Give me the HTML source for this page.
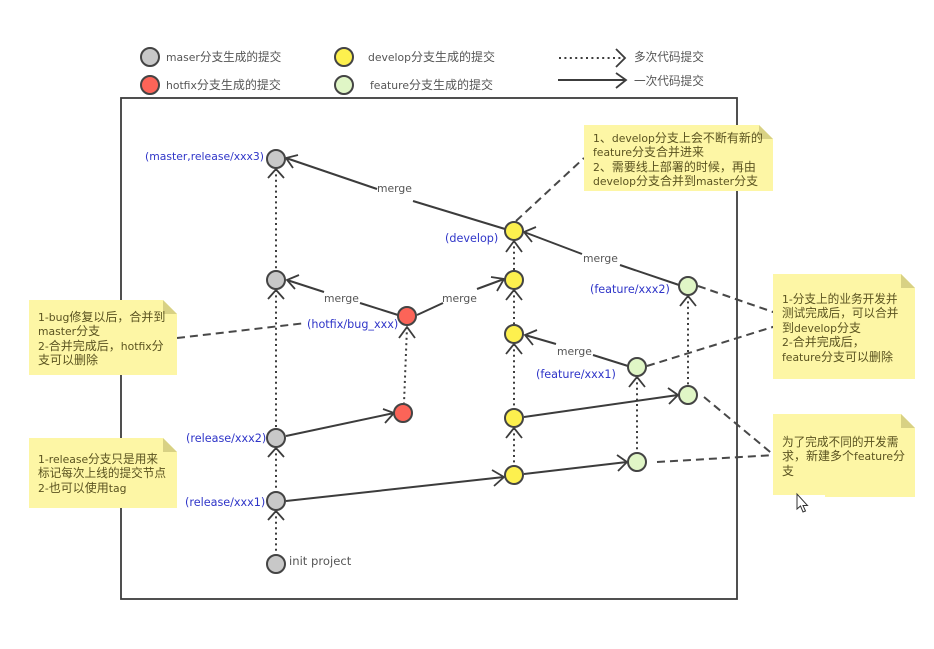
<!DOCTYPE html>
<html>
<head>
<meta charset="utf-8">
<style>
html,body{margin:0;padding:0;background:#fff;width:934px;height:649px;overflow:hidden}
svg{display:block;filter:blur(0.3px)}
text{font-family:"DejaVu Sans","Noto Sans CJK SC",sans-serif;font-size:10.8px;fill:#555}
tspan{font-size:12px}
tspan.t{font-size:11.65px}
.n text{fill:#5a5320}
text.b{fill:#2f35c8;font-size:11.2px}
text.m{font-size:10.8px}
text.i{font-size:11.6px}
.f{fill:none;stroke:#3c3c3c;stroke-width:1.8}
.d{fill:none;stroke:#3c3c3c;stroke-width:2;stroke-dasharray:2 3.4}
.s{fill:none;stroke:#3c3c3c;stroke-width:2}
.h{fill:none;stroke:#484848;stroke-width:2;stroke-dasharray:8 5}
.g{fill:#c8c8c8;stroke:#444;stroke-width:2}
.r{fill:#fc6458;stroke:#444;stroke-width:2}
.y{fill:#fdf04e;stroke:#444;stroke-width:2}
.e{fill:#e0f6c6;stroke:#444;stroke-width:2}
.nb{fill:#fdf6a5}
.nf{fill:#d8d184}
</style>
</head>
<body>
<svg width="934" height="649" viewBox="0 0 934 649" xmlns="http://www.w3.org/2000/svg">
<rect x="121" y="98" width="616" height="501" fill="#fff" stroke="#3c3c3c" stroke-width="1.8"/>

<!-- legend -->
<circle class="g" cx="150" cy="57" r="9"/>
<circle class="r" cx="150" cy="85" r="9"/>
<circle class="y" cx="344" cy="57" r="9"/>
<circle class="e" cx="344" cy="85" r="9"/>
<text x="166" y="61">maser<tspan class="t">分支生成的提交</tspan></text>
<text x="166" y="89">hotfix<tspan>分支生成的提交</tspan></text>
<text x="368" y="61">develop<tspan>分支生成的提交</tspan></text>
<text x="370" y="89">feature<tspan>分支生成的提交</tspan></text>
<path class="d" d="M559 58H622"/>
<path class="f" d="M616 49L625 58L616 67"/>
<path class="s" d="M558 80H626"/>
<path class="f" d="M616 73L626 80L616 88"/>
<text x="634" y="61"><tspan class="t">多次代码提交</tspan></text>
<text x="634" y="85"><tspan class="t">一次代码提交</tspan></text>

<!-- dotted lines -->
<path class="d" d="M276 169V270M276 290V428M276 448V491M276 511V554"/>
<path class="d" d="M514 241V270M514 290V324M514 344V408M514 428V465"/>
<path class="d" d="M407 327L404 403"/>
<path class="d" d="M688 296V385"/>
<path class="d" d="M637 377V452"/>

<!-- up arrowheads -->
<g class="f">
<path d="M268 178L276 169L284 178"/>
<path d="M268 299L276 290L284 299"/>
<path d="M268 457L276 448L284 457"/>
<path d="M268 520L276 511L284 520"/>
<path d="M399 338L407 327L415 338"/>
<path d="M506 252L514 241L522 252"/>
<path d="M506 300L514 290L522 300"/>
<path d="M506 354L514 344L522 354"/>
<path d="M506 438L514 428L522 438"/>
<path d="M680 306L688 296L696 306"/>
<path d="M629 387L637 377L645 387"/>
</g>

<!-- solid arrows -->
<path class="s" d="M286 158L377 189"/>
<path class="s" d="M413 201L505 229"/>
<path class="f" d="M298 155L286 158L293 168"/>
<path class="s" d="M524 232L582 254"/>
<path class="s" d="M620 265L679 285"/>
<path class="f" d="M536 227L524 232L532 242"/>
<path class="s" d="M287 280L324 292"/>
<path class="s" d="M360 303L398 315"/>
<path class="f" d="M299 275L287 280L295 289"/>
<path class="s" d="M417 315L443 303"/>
<path class="s" d="M477 289L504 279"/>
<path class="f" d="M491 277L504 279L497 291"/>
<path class="s" d="M525 335L556 344"/>
<path class="s" d="M593 355L628 366"/>
<path class="f" d="M537 330L525 335L533 345"/>
<path class="s" d="M286 436L394 413"/>
<path class="f" d="M383 409L394 413L385 423"/>
<path class="s" d="M286 501L504 477"/>
<path class="f" d="M492 470L504 477L494 486"/>
<path class="s" d="M524 417L678 395"/>
<path class="f" d="M668 388L678 395L669 404"/>
<path class="s" d="M524 474L627 462"/>
<path class="f" d="M617 455L627 462L618 471"/>

<!-- dashed -->
<path class="h" d="M516 221L584 158"/>
<path class="h" d="M177 338L306 323"/>
<path class="h" d="M698 286L776 313"/>
<path class="h" d="M647 366L776 326"/>
<path class="h" d="M704 397L775 456"/>
<path class="h" d="M657 462L775 455"/>

<!-- nodes -->
<circle class="g" cx="276" cy="159" r="9"/>
<circle class="g" cx="276" cy="280" r="9"/>
<circle class="g" cx="276" cy="438" r="9"/>
<circle class="g" cx="276" cy="501" r="9"/>
<circle class="g" cx="276" cy="564" r="9"/>
<circle class="r" cx="407" cy="316" r="9"/>
<circle class="r" cx="403" cy="413" r="9"/>
<circle class="y" cx="514" cy="231" r="9"/>
<circle class="y" cx="514" cy="280" r="9"/>
<circle class="y" cx="514" cy="334" r="9"/>
<circle class="y" cx="514" cy="418" r="9"/>
<circle class="y" cx="514" cy="475" r="9"/>
<circle class="e" cx="688" cy="286" r="9"/>
<circle class="e" cx="637" cy="367" r="9"/>
<circle class="e" cx="688" cy="395" r="9"/>
<circle class="e" cx="637" cy="462" r="9"/>

<!-- node labels -->
<text class="b m" x="145" y="160">(master,release/xxx3)</text>
<text class="b" x="445" y="242">(develop)</text>
<text class="b" x="590" y="293">(feature/xxx2)</text>
<text class="b" x="536" y="378">(feature/xxx1)</text>
<text class="b" x="307" y="328">(hotfix/bug_xxx)</text>
<text class="b" x="186" y="442">(release/xxx2)</text>
<text class="b" x="185" y="506">(release/xxx1)</text>
<text class="i" x="289" y="565">init project</text>
<text x="377" y="192">merge</text>
<text x="583" y="262">merge</text>
<text x="324" y="302">merge</text>
<text x="442" y="302">merge</text>
<text x="557" y="355">merge</text>

<!-- notes -->
<g class="n">
<path class="nb" d="M584 125H759L773 139V191H584Z"/>
<path class="nf" d="M759 125L773 139H759Z"/>
<text x="593" y="142">1<tspan>、</tspan>develop<tspan>分支上会不断有新的</tspan></text>
<text x="593" y="156">feature<tspan>分支合并进来</tspan></text>
<text x="593" y="171">2<tspan>、需要线上部署的时候，再由</tspan></text>
<text x="593" y="185">develop<tspan>分支合并到</tspan>master<tspan>分支</tspan></text>

<path class="nb" d="M29 300H163L177 314V375H29Z"/>
<path class="nf" d="M163 300L177 314H163Z"/>
<text x="38" y="321">1-bug<tspan>修复以后，合并到</tspan></text>
<text x="38" y="335">master<tspan>分支</tspan></text>
<text x="38" y="350">2-<tspan>合并完成后，</tspan>hotfix<tspan>分</tspan></text>
<text x="38" y="364"><tspan>支可以删除</tspan></text>

<path class="nb" d="M29 438H163L177 452V508H29Z"/>
<path class="nf" d="M163 438L177 452H163Z"/>
<text x="38" y="463">1-release<tspan class="t">分支只是用来</tspan></text>
<text x="38" y="477"><tspan class="t">标记每次上线的提交节点</tspan></text>
<text x="38" y="492">2-<tspan>也可以使用</tspan>tag</text>

<path class="nb" d="M773 274H901L915 288V379H773Z"/>
<path class="nf" d="M901 274L915 288H901Z"/>
<text x="782" y="303">1-<tspan class="t">分支上的业务开发并</tspan></text>
<text x="782" y="317"><tspan class="t">测试完成后，可以合并</tspan></text>
<text x="782" y="332"><tspan>到</tspan>develop<tspan>分支</tspan></text>
<text x="782" y="346">2-<tspan>合并完成后，</tspan></text>
<text x="782" y="361">feature<tspan>分支可以删除</tspan></text>

<path class="nb" d="M773 414H901L915 428V497H825V495H773Z"/>
<path class="nf" d="M901 414L915 428H901Z"/>
<text x="782" y="446"><tspan class="t">为了完成不同的开发需</tspan></text>
<text x="782" y="460"><tspan>求，新建多个</tspan>feature<tspan>分</tspan></text>
<text x="782" y="475"><tspan>支</tspan></text>
</g>

<!-- cursor -->
<path d="M797 494V509L800.5 506L803 512L805.5 511L803 505.5H807.5Z" fill="#fff" stroke="#333" stroke-width="1"/>
</svg>
</body>
</html>
